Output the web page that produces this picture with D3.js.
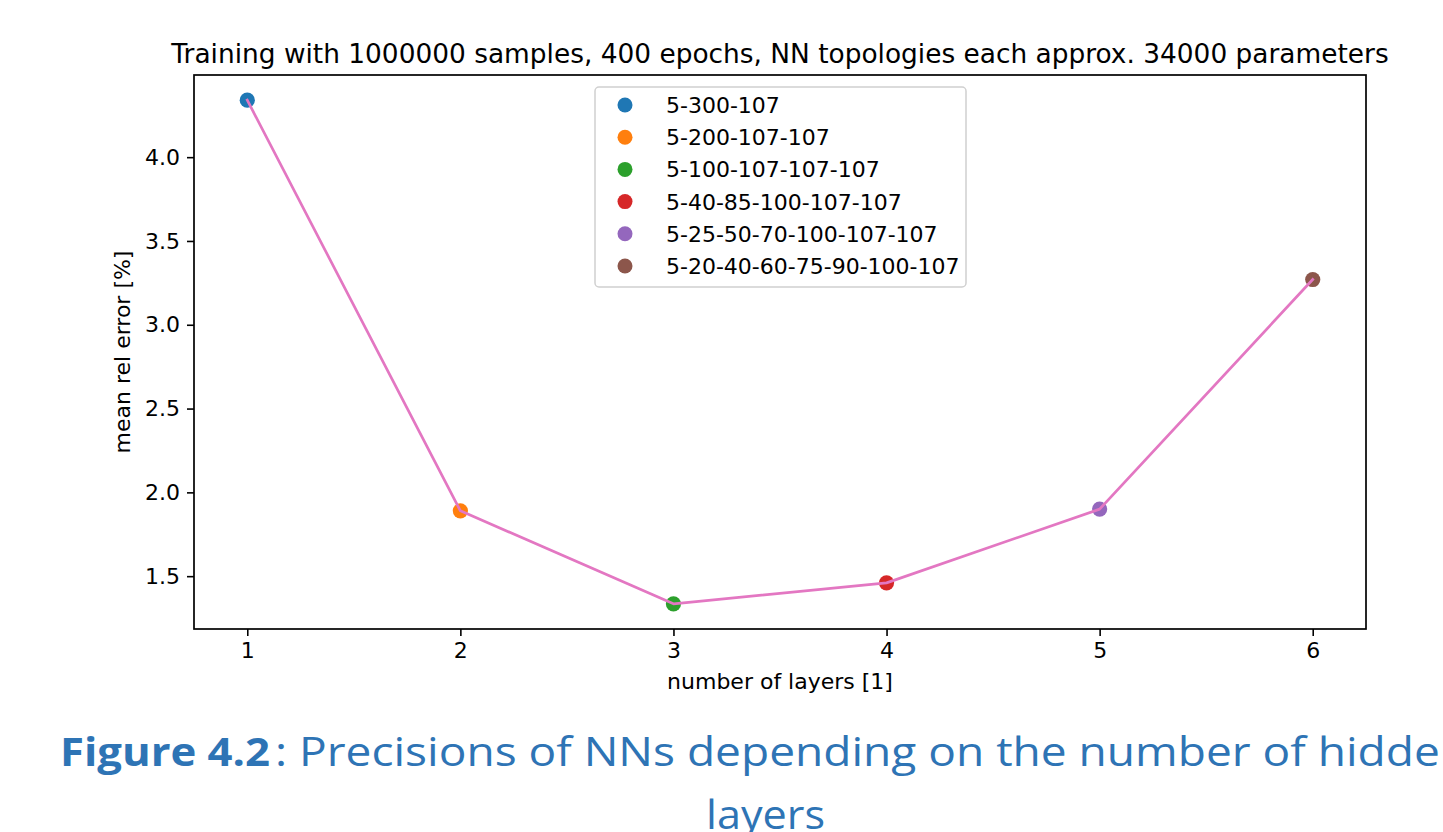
<!DOCTYPE html>
<html>
<head>
<meta charset="utf-8">
<script src="https://cdn.jsdelivr.net/npm/d3@7"></script>
<style>
  html, body { margin: 0; padding: 0; background: #fff; overflow: hidden; }
  svg { display: block; }
</style>
</head>
<body>
<script>
// ---- data ----
const topologies = ["5-300-107", "5-200-107-107", "5-100-107-107-107", "5-40-85-100-107-107", "5-25-50-70-100-107-107", "5-20-40-60-75-90-100-107"];
const layers = [1, 2, 3, 4, 5, 6];
const meanRelError = [4.34, 1.89, 1.335, 1.46, 1.90, 3.27];
const xTicks = [1, 2, 3, 4, 5, 6];
const yTicks = [1.5, 2.0, 2.5, 3.0, 3.5, 4.0];
const pointColors = ["#1f77b4", "#ff7f0e", "#2ca02c", "#d62728", "#9467bd", "#8c564b"];
const lineColor = "#e377c2";
const titleText = "Training with 1000000 samples, 400 epochs, NN topologies each approx. 34000 parameters";
const xLabel = "number of layers [1]";
const yLabel = "mean rel error [%]";
const captionBold = "Figure 4.2";
const captionRest = ": Precisions of NNs depending on the number of hidden";
const captionLine2 = "layers";

// ---- layout ----
const W = 1443, H = 832;
const plot = { left: 194, right: 1366, top: 75, bottom: 629 };
const font = "DejaVu Sans, sans-serif";
const fs = "22px";

const svg = d3.select("body").append("svg").attr("width", W).attr("height", H);
svg.append("rect").attr("width", W).attr("height", H).attr("fill", "#fff");

// matplotlib-like 5% margins
const xExt = d3.extent(layers), yExt = d3.extent(meanRelError);
const xPad = (xExt[1] - xExt[0]) * 0.05, yPad = (yExt[1] - yExt[0]) * 0.05;
const x = d3.scaleLinear().domain([xExt[0] - xPad, xExt[1] + xPad]).range([plot.left, plot.right]);
const y = d3.scaleLinear().domain([yExt[0] - yPad, yExt[1] + yPad]).range([plot.bottom, plot.top]);

// axes
const xAxis = d3.axisBottom(x).tickValues(xTicks).tickFormat(d3.format("d")).tickSize(7).tickPadding(6);
const yAxis = d3.axisLeft(y).tickValues(yTicks).tickFormat(d3.format(".1f")).tickSize(7).tickPadding(7);

const gx = svg.append("g").attr("transform", `translate(0,${plot.bottom})`).call(xAxis);
const gy = svg.append("g").attr("transform", `translate(${plot.left},0)`).call(yAxis);
[gx, gy].forEach(g => {
  g.select(".domain").remove();
  g.selectAll(".tick line").attr("stroke", "#000").attr("stroke-width", 1.6);
  g.selectAll(".tick text").attr("fill", "#000").style("font-family", font).style("font-size", fs);
});

// points (scatter per topology)
svg.append("g").selectAll("circle").data(layers).join("circle")
  .attr("cx", (d) => x(d))
  .attr("cy", (d, i) => y(meanRelError[i]))
  .attr("r", 7.6)
  .attr("fill", (d, i) => pointColors[i]);

// line on top
const line = d3.line().x(d => x(d[0])).y(d => y(d[1]));
svg.append("path")
  .datum(layers.map((d, i) => [d, meanRelError[i]]))
  .attr("d", line)
  .attr("fill", "none")
  .attr("stroke", lineColor)
  .attr("stroke-width", 2.7)
  .attr("stroke-linejoin", "round")
  .attr("stroke-linecap", "square");

// spines
svg.append("rect")
  .attr("x", plot.left).attr("y", plot.top)
  .attr("width", plot.right - plot.left).attr("height", plot.bottom - plot.top)
  .attr("fill", "none").attr("stroke", "#000").attr("stroke-width", 1.7);

// title
svg.append("text")
  .attr("x", (plot.left + plot.right) / 2).attr("y", 63)
  .attr("text-anchor", "middle")
  .style("font-family", font).style("font-size", "26.4px")
  .text(titleText);

// axis labels
svg.append("text")
  .attr("x", (plot.left + plot.right) / 2).attr("y", 689)
  .attr("text-anchor", "middle")
  .style("font-family", font).style("font-size", fs)
  .text(xLabel);
svg.append("text")
  .attr("transform", `translate(130,${(plot.top + plot.bottom) / 2}) rotate(-90)`)
  .attr("text-anchor", "middle")
  .style("font-family", font).style("font-size", fs)
  .text(yLabel);

// legend
const leg = { x: 595, y: 87, w: 371, h: 200, rowStart: 105, rowStep: 32.2, markX: 625, textX: 666 };
svg.append("rect")
  .attr("x", leg.x).attr("y", leg.y).attr("width", leg.w).attr("height", leg.h)
  .attr("rx", 4).attr("ry", 4)
  .attr("fill", "#fff").attr("fill-opacity", 0.8)
  .attr("stroke", "#d0d0d0").attr("stroke-width", 1.5);
const items = svg.append("g").selectAll("g").data(topologies).join("g")
  .attr("transform", (d, i) => `translate(0,${leg.rowStart + i * leg.rowStep})`);
items.append("circle").attr("cx", leg.markX).attr("cy", 0).attr("r", 7.5).attr("fill", (d, i) => pointColors[i]);
items.append("text").attr("x", leg.textX).attr("y", 0).attr("dy", "0.36em")
  .style("font-family", font).style("font-size", fs).text(d => d);

// caption
const capColor = "#2e74b5";
const capFont = "'Open Sans', Lato, sans-serif";
svg.append("text")
  .attr("x", 60).attr("y", 766)
  .attr("textLength", 210).attr("lengthAdjust", "spacingAndGlyphs")
  .style("font-family", capFont).style("font-size", "40px").style("font-weight", "bold")
  .attr("fill", capColor).text(captionBold);
svg.append("text")
  .attr("x", 275).attr("y", 766)
  .attr("textLength", 1193).attr("lengthAdjust", "spacingAndGlyphs")
  .style("font-family", capFont).style("font-size", "40px")
  .attr("fill", capColor).text(captionRest);
svg.append("text")
  .attr("x", 706).attr("y", 829)
  .attr("textLength", 119).attr("lengthAdjust", "spacingAndGlyphs")
  .style("font-family", capFont).style("font-size", "40px")
  .attr("fill", capColor).text(captionLine2);
</script>
</body>
</html>
